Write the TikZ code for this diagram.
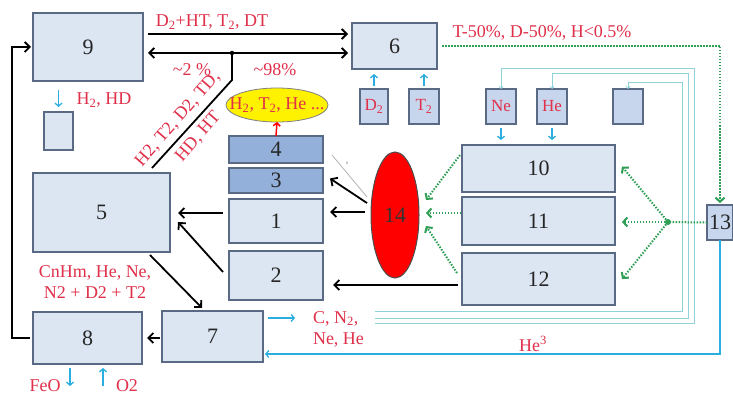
\documentclass[tikz,border=0pt]{standalone}
\usepackage{fontspec}
\setmainfont{Liberation Serif}
\usetikzlibrary{arrows.meta,calc,shapes.geometric}
\definecolor{boxfill}{HTML}{DCE6F2}
\definecolor{boxline}{HTML}{5A6A84}
\definecolor{darkfill}{HTML}{93B0DA}
\definecolor{smallfill}{HTML}{C7D6EC}
\definecolor{redtxt}{HTML}{E0304A}
\definecolor{cyn}{HTML}{2AAEE0}
\definecolor{thincyan}{HTML}{8ED3DA}
\definecolor{grn}{HTML}{2E9E55}
\begin{document}
\begin{tikzpicture}[x=1pt,y=-1pt,
  every node/.style={inner sep=0pt, outer sep=0pt},
  bx/.style={draw=boxline, line width=1.2pt, fill=boxfill, font=\fontsize{22}{22}\selectfont, text=black!85},
  dbx/.style={bx, fill=darkfill},
  sbx/.style={draw=boxline, line width=1.2pt, fill=smallfill, font=\fontsize{17}{17}\selectfont, text=redtxt, minimum height=35pt, minimum width=30pt},
  lbl/.style={text=redtxt, font=\fontsize{18}{21}\selectfont},
  blk/.style={draw=black, line width=1.8pt, -{Straight Barb[length=5pt,width=10pt]}},
  cyarr/.style={draw=cyn, line width=1.3pt, -{Straight Barb[length=3pt,width=7pt]}},
  thinc/.style={draw=thincyan, line width=0.8pt, -{Straight Barb[length=2pt,width=4pt]}},
  gdot/.style={draw=grn, line width=2pt, dash pattern=on 1.5pt off 1.5pt, -{Straight Barb[length=4pt,width=9pt]}},
]
\useasboundingbox[fill=white] (0,0) rectangle (733,398);

% boxes
\node[bx, minimum width=110pt, minimum height=68pt] (b9) at (88,47) {9};
\node[draw=boxline, line width=1.2pt, fill=boxfill, minimum width=29pt, minimum height=38pt] (bs) at (58.5,131) {};
\node[bx, minimum width=85pt, minimum height=46pt] (b6) at (394.5,46) {6};
\node[sbx, minimum width=28pt] (bD) at (374,106.5) {D\textsubscript{2}};
\node[sbx] (bT) at (424,106.5) {T\textsubscript{2}};
\node[sbx] (bNe) at (501,106.5) {Ne};
\node[sbx] (bHe) at (552,106.5) {He};
\node[sbx] (bX) at (628,106.5) {};
\node[dbx, minimum width=94pt, minimum height=27pt] (b4) at (276,149.5) {4};
\node[dbx, minimum width=94pt, minimum height=25pt] (b3) at (276,180.5) {3};
\node[bx, minimum width=94pt, minimum height=44pt] (b1) at (276,221) {1};
\node[bx, minimum width=94pt, minimum height=49pt] (b2) at (276,275.5) {2};
\node[bx, minimum width=137pt, minimum height=79pt] (b5) at (101.5,212.5) {5};
\node[bx, minimum width=109pt, minimum height=52pt] (b8) at (87.5,338) {8};
\node[bx, minimum width=101pt, minimum height=51pt] (b7) at (212.5,336.5) {7};
\node[bx, minimum width=153pt, minimum height=47pt] (b10) at (538.5,168.5) {10};
\node[bx, minimum width=153pt, minimum height=48pt] (b11) at (538.5,221) {11};
\node[bx, minimum width=153pt, minimum height=52pt] (b12) at (538.5,279) {12};
\node[bx, fill=smallfill, minimum width=26pt, minimum height=35pt] (b13) at (720,222.5) {13};
\node[ellipse, draw=black!70, line width=1pt, fill=red, minimum width=48pt, minimum height=126pt] (e14) at (395,215) {};
\node[font=\fontsize{22}{22}\selectfont, text=black!80] (n14) at (e14) {14};
\node[ellipse, draw=gray, line width=0.8pt, fill=yellow, minimum width=102pt, minimum height=34pt] (eY) at (277,105) {};
\node[lbl] (tY) at (eY) {H\textsubscript{2}, T\textsubscript{2}, He ...};

% labels
\node[lbl] (t1) at (212,22) {D\textsubscript{2}+HT, T\textsubscript{2}, DT};
\node[lbl] (t2) at (192,70) {\textasciitilde2 \%};
\node[lbl] (t3) at (275,70) {\textasciitilde98\%};
\node[lbl] (t4) at (104,100) {H\textsubscript{2}, HD};
\node[lbl] (t5) at (542,33) {T-50\%, D-50\%, H<0.5\%};
\node[lbl, align=center] (t6) at (95,282) {CnHm, He, Ne,\\N2 + D2 + T2};
\node[lbl, align=left, anchor=west] (t7) at (313,329) {C, N\textsubscript{2},\\Ne, He};
\node[lbl] (t8) at (533,344) {He\textsuperscript{3}};
\node[lbl] (t9) at (45,386) {FeO};
\node[lbl] (t10) at (127,386) {O2};
\node[lbl, rotate=49, align=center, font=\fontsize{18}{27}\selectfont] (t11) at (188,128) {H2, T2, D2, TD,\\HD, HT};
\node[text=gray, font=\fontsize{5}{5}\selectfont] (tn) at (347,163) {n};

% coordinates
\coordinate (j) at (232,53);
\coordinate (jb) at (232,80);
\coordinate (je) at (152,168);
\coordinate (h) at (668,222);
\coordinate (g1) at (332,155);
\coordinate (g2) at (367,197);
\coordinate (c1) at (375,311);
\coordinate (c2) at (375,318);
\coordinate (c3) at (375,323);

% black connectors
\draw[blk] ($(b9.north east)+(5,21)$) -- ($(b6.north west)+(-4,11)$);
\draw[blk, {Straight Barb[length=5pt,width=10pt]}-{Straight Barb[length=5pt,width=10pt]}] ($(b9.north east)+(5,40)$) -- ($(b6.north west)+(-4,30)$);
\draw[draw=black, line width=1.8pt] (j) -- (jb) -- (je);
\fill[black] (j) circle (2.2);
\draw[blk] ($(e14.west)+(-4,-12)$) -- ($(b3.east)+(7,-2)$);
\draw[blk] ($(e14.west)+(-6,-3)$) -- ($(b1.east)+(7,-9)$);
\draw[blk] ($(b12.west)+(-4,6)$) -- ($(b2.east)+(10,9.5)$);
\draw[blk] ($(b1.west)+(-6,-8)$) -- ($(b5.east)+(8,0.5)$);
\draw[blk] ($(b2.west)+(-6,-3.5)$) -- ($(b5.east)+(8,9.5)$);
\draw[blk] ($(b5.south east)+(-20,3)$) -- ($(b7.north west)+(40,-3)$);
\draw[blk] ($(b7.west)+(-2,1.5)$) -- ($(b8.east)+(5,0)$);
\draw[blk] ($(b8.west)+(-3,0)$) -- ++(-18,0) |- ($(b9.west)+(-2,0)$);

% red
\draw[draw=red, line width=1.5pt, -{Straight Barb[length=3pt,width=7pt]}] (b4.north) -- (eY.south);

% grey thin
\draw[draw=gray!60, line width=0.8pt] (g1) -- (g2);

% cyan arrows
\draw[cyarr] ($(bs.north)+(0,-22)$) -- ($(bs.north)+(0,-5)$);
\draw[cyarr] ([yshift=3pt]bD.north) -- ++(0,-12);
\draw[cyarr] ([yshift=3pt]bT.north) -- ++(0,-12);
\draw[cyarr] ([yshift=-4pt]bNe.south) -- ++(0,12);
\draw[cyarr] ([yshift=-4pt]bHe.south) -- ++(0,12);
\draw[cyarr] ($(b7.east)+(5,-18.5)$) -- ++(27,0);
\draw[cyarr] ($(b8.south west)+(37,4)$) -- ++(0,18);
\draw[cyarr] ($(b8.south west)+(70,22)$) -- ++(0,-18);
\draw[cyarr] (b13.south) |- ($(b7.east)+(2,17.5)$);

% thin cyan
\draw[thinc] (c1) -- (682,311) -- (682,82) -- (628,82) -- (bX.north);
\draw[thinc] (c2) -- (688,318) -- (688,73) -- (552,73) -- (bHe.north);
\draw[thinc] (c3) -- (694,323) -- (694,68) -- (501,68) -- (bNe.north);

% green dotted
\draw[gdot] ($(b6.east)+(5,0)$) -| ($(b13.north)+(0,-2)$);
\draw[gdot, -] (b13.west) -- (h);
\fill[grn] (h) circle (3);
\draw[gdot] (h) -- ($(b10.east)+(7,-2)$);
\draw[gdot] (h) -- ($(b11.east)+(7,1)$);
\draw[gdot] (h) -- ($(b12.east)+(7,0)$);
\draw[gdot] ($(b10.south west)+(-2,-37)$) -- ($(e14.east)+(7,-15)$);
\draw[gdot] ($(b11.west)+(-1,-8)$) -- ($(e14.east)+(7,-2)$);
\draw[gdot] ($(b12.west)+(-5,-6)$) -- ($(e14.east)+(7,11)$);
\end{tikzpicture}
\end{document}
